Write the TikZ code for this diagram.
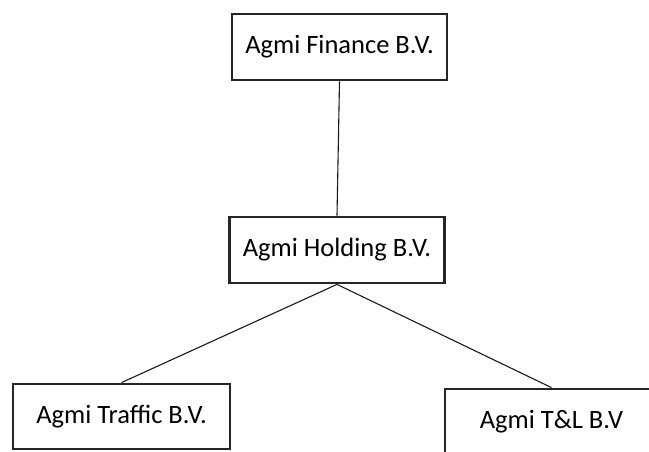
\documentclass[tikz,border=0pt]{standalone}
\usepackage{fontspec}
\setmainfont{Carlito}
\usepackage{tikz}

\begin{document}
\begin{tikzpicture}[x = 1pt, y = -1pt,
    company/.style = {draw=black!85, line width=2.8pt, rectangle, fill=white,
        minimum width=215pt, minimum height=66pt, inner sep=0pt,
        font=\fontsize{26.5}{30}\selectfont},
    link/.style = {draw=black!90, line width=1.1pt}]

            \useasboundingbox (0,0) rectangle (649,451);
            \clip (0,0) rectangle (649,451);

            \node[company] (finance) at (339.5, 47)  {Agmi Finance B.V.};
            \node[company] (holding) at (337, 250)   {Agmi Holding B.V.};

            \node[company, minimum width=217pt, minimum height=65pt] (traffic) at (121.5, 416.5) {Agmi Traffic B.V.};
            \node[company, minimum width=213pt] (tl) at (551.5, 422) {Agmi T\&L B.V};

            \draw[link] (finance.south) -- (holding.north);

            \foreach \sub in {traffic, tl}
            \draw[link] (holding.south) -- (\sub.north);
\end{tikzpicture}
\end{document}
